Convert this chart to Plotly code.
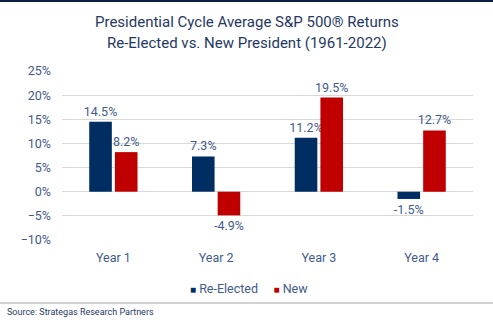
import plotly.graph_objects as go

categories = ["Year 1", "Year 2", "Year 3", "Year 4"]
re_elected = [14.5, 7.3, 11.2, -1.5]
new_pres = [8.2, -4.9, 19.5, 12.7]
series_names = ["Re-Elected", "New"]
series_colors = ["#002D62", "#C00000"]

W, H = 493, 332
L, R, T, B = 62, 20, 71, 92
pw = W - L - R
ph = H - T - B

def px_x(x):
    return (x - L) / pw

def px_y(y):
    return (H - B - y) / ph

label_color = "#3F5B8C"
title_color = "#1F3864"
fig = go.Figure()
for name, vals, col in zip(series_names, [re_elected, new_pres], series_colors):
    fig.add_trace(go.Bar(
        name=name, x=categories, y=vals,
        marker=dict(color=col, line=dict(width=0)),
        text=[f"{v:.1f}%" for v in vals], textposition="outside",
        constraintext="none",
        textfont=dict(color=label_color, size=12.5, family="Roboto"),
        cliponaxis=False, showlegend=False,
    ))

legend_html = "&nbsp;&nbsp;&nbsp;&nbsp;&nbsp;".join(
    f'<span style="color:{c};font-size:10px">■</span> {n}'
    for n, c in zip(series_names, series_colors)
)

fig.update_layout(
    width=W, height=H,
    margin=dict(l=L, r=R, t=T, b=B),
    paper_bgcolor="white", plot_bgcolor="white",
    barmode="group", bargap=0.5, bargroupgap=0.12,
    font=dict(family="Roboto", color=label_color, size=12),
    showlegend=False,
    yaxis=dict(
        range=[-10, 25], dtick=5, ticksuffix="%",
        showgrid=True, gridcolor="#D9D9D9", gridwidth=1,
        zeroline=True, zerolinecolor="#D9D9D9", zerolinewidth=1,
        showline=False, ticks="", ticklabelstandoff=10,
        tickfont=dict(size=12.5, color=label_color),
    ),
    xaxis=dict(
        showgrid=False, showline=False, ticks="",
        tickfont=dict(size=12.5, color=label_color),
        ticklabelstandoff=8,
    ),
    shapes=[
        dict(type="line", xref="paper", yref="paper",
             x0=px_x(0), x1=px_x(W), y0=px_y(1), y1=px_y(1),
             line=dict(color="#0B1F44", width=2)),
        dict(type="line", xref="paper", yref="paper",
             x0=px_x(0), x1=px_x(W), y0=px_y(303), y1=px_y(303),
             line=dict(color="#A6A6A6", width=1.2)),
    ],
    annotations=[
        dict(text="Presidential Cycle Average S&P 500® Returns", xref="paper", yref="paper",
             x=px_x(247), y=px_y(22), xanchor="center", yanchor="middle",
             showarrow=False, font=dict(family="Roboto", size=15, color=title_color)),
        dict(text="Re-Elected vs. New President (1961-2022)", xref="paper", yref="paper",
             x=px_x(247), y=px_y(43), xanchor="center", yanchor="middle",
             showarrow=False, font=dict(family="Roboto", size=15, color=title_color)),
        dict(text=legend_html, xref="paper", yref="paper",
             x=px_x(249), y=px_y(288), xanchor="center", yanchor="middle",
             showarrow=False, font=dict(family="Roboto", size=12.5, color=label_color)),
        dict(text="Source: Strategas Research Partners", xref="paper", yref="paper",
             x=px_x(5), y=px_y(312), xanchor="left", yanchor="middle",
             showarrow=False,
             font=dict(family="Roboto", size=9, color=title_color)),
    ],
)

fig.write_html("out.html")
